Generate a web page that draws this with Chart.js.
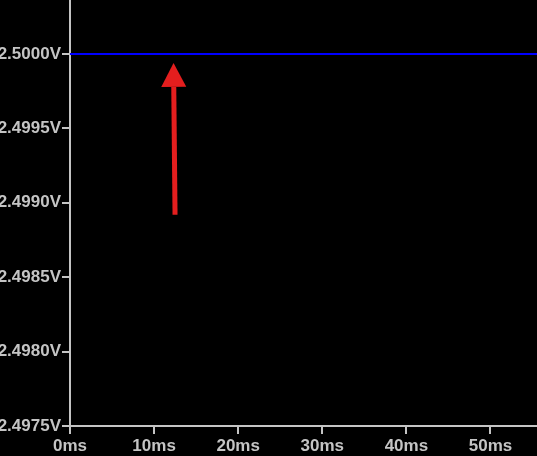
<!DOCTYPE html>
<html>
<head>
<meta charset="utf-8">
<script src="https://cdn.jsdelivr.net/npm/chart.js@4.4.0/dist/chart.umd.min.js"></script>
<style>
    html, body { margin: 0; padding: 0; background: #000; }
    canvas { display: block; }
</style>
</head>
<body>
<canvas id="myChart" width="537" height="456"></canvas>
<script>
// data
const timeMs = [0, 55.53];
const voltage = [2.5, 2.5];
const xTicks = [0, 10, 20, 30, 40, 50];
const yTicks = [2.4975, 2.498, 2.4985, 2.499, 2.4995, 2.5];
const xRange = [0, 55.53];
const yRange = [2.4975, 2.500363];
// arrow: tail and tip in data units (ms, V)
const arrowTail = [12.49, 2.49892];
const arrowTip = [12.31, 2.49994];

const axisColor = "#c4c4c4";
const tickFont = { family: "'Liberation Sans', Arial, sans-serif", size: 17, weight: "bold" };

// red arrow drawn on top of the plot
const arrowPlugin = {
    id: "arrow",
    afterDatasetsDraw(chart) {
        const c = chart.ctx;
        const xs = chart.scales.x;
        const ys = chart.scales.y;
        const x1 = xs.getPixelForValue(arrowTail[0]);
        const y1 = ys.getPixelForValue(arrowTail[1]);
        const x2 = xs.getPixelForValue(arrowTip[0]);
        const y2 = ys.getPixelForValue(arrowTip[1]);
        const ang = Math.atan2(y2 - y1, x2 - x1);
        const headLen = 24;
        const headHalf = 12.5;
        const bx = x2 - headLen * Math.cos(ang);
        const by = y2 - headLen * Math.sin(ang);

        c.save();
        c.strokeStyle = "#e41e1e";
        c.fillStyle = "#e41e1e";
        c.lineWidth = 5;
        c.beginPath();
        c.moveTo(x1, y1);
        c.lineTo(bx, by);
        c.stroke();

        c.beginPath();
        c.moveTo(x2, y2);
        c.lineTo(bx + headHalf * Math.sin(ang), by - headHalf * Math.cos(ang));
        c.lineTo(bx - headHalf * Math.sin(ang), by + headHalf * Math.cos(ang));
        c.closePath();
        c.fill();
        c.restore();
    }
};

const ctx = document.getElementById("myChart").getContext("2d");
const myChart = new Chart(ctx, {
    type: "line",
    data: {
        datasets: [
            {
                data: timeMs.map((t, i) => ({ x: t, y: voltage[i] })),
                borderColor: "#0000ff",
                borderWidth: 2,
                pointRadius: 0,
                tension: 0,
            },
        ],
    },
    options: {
        responsive: false,
        animation: false,
        layout: { padding: 0 },
        plugins: {
            legend: { display: false },
            tooltip: { enabled: false },
        },
        scales: {
            x: {
                type: "linear",
                min: xRange[0],
                max: xRange[1],
                afterBuildTicks: (scale) => {
                    scale.ticks = xTicks.map((v) => ({ value: v }));
                },
                afterFit: (scale) => {
                    scale.height = 30;
                },
                ticks: {
                    color: axisColor,
                    font: tickFont,
                    padding: 2,
                    maxRotation: 0,
                    autoSkip: false,
                    callback: (v) => v + "ms",
                },
                grid: {
                    drawOnChartArea: false,
                    drawTicks: true,
                    tickLength: 8,
                    color: axisColor,
                    lineWidth: 2,
                },
                border: { color: axisColor, width: 2 },
            },
            y: {
                type: "linear",
                min: yRange[0],
                max: yRange[1],
                afterBuildTicks: (scale) => {
                    scale.ticks = yTicks.map((v) => ({ value: v }));
                },
                afterFit: (scale) => {
                    scale.width = 70;
                    // keep the plot flush with the top edge
                    scale.paddingTop = 0;
                },
                ticks: {
                    color: axisColor,
                    font: tickFont,
                    padding: 1,
                    autoSkip: false,
                    callback: (v) => v.toFixed(4) + "V",
                },
                grid: {
                    drawOnChartArea: false,
                    drawTicks: true,
                    tickLength: 8,
                    color: axisColor,
                    lineWidth: 2,
                },
                border: { color: axisColor, width: 2 },
            },
        },
    },
    plugins: [arrowPlugin],
});
</script>
</body>
</html>
